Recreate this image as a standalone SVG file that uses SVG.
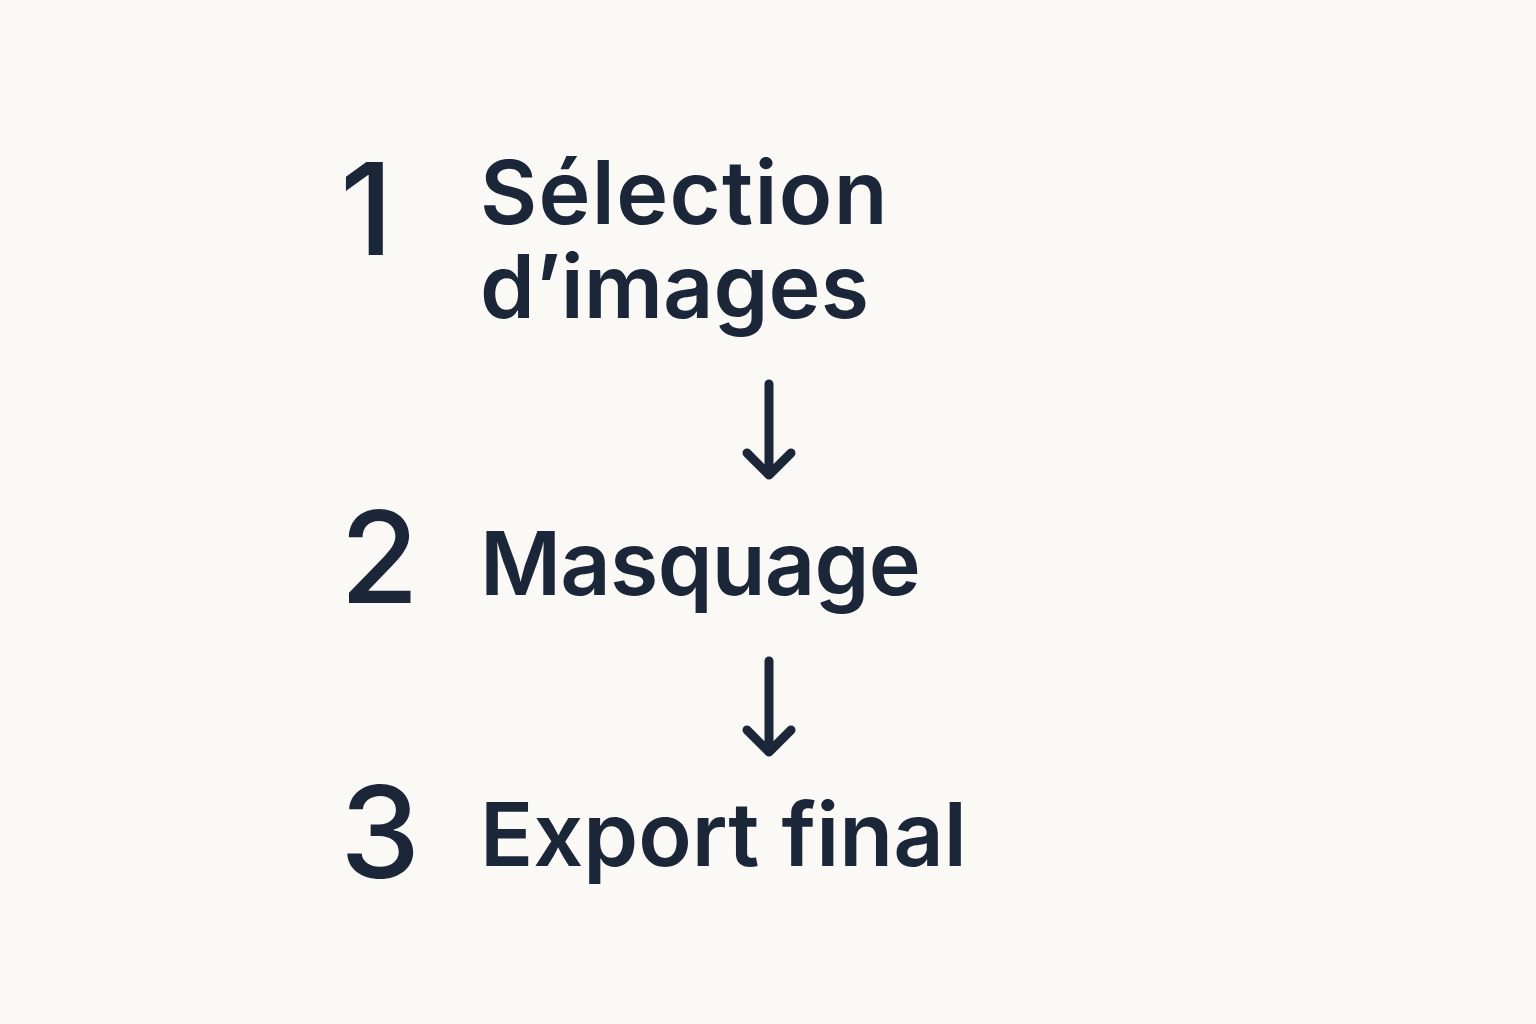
<svg xmlns="http://www.w3.org/2000/svg" width="1536" height="1024" viewBox="0 0 1536 1024">
<style>
.num{font-family:Inter,"Liberation Sans",sans-serif;font-weight:500;font-size:128px;fill:#1b2739}
.lbl{font-family:Inter,"Liberation Sans",sans-serif;font-weight:600;font-size:88px;fill:#1b2739}
.arr{fill:none;stroke:#1b2739;stroke-width:9;stroke-linecap:round;stroke-linejoin:round}
</style>
<rect width="1536" height="1024" fill="#fbf9f5"/>
<g id="step1">
<text class="num" x="340" y="255">1</text>
<text class="lbl" x="480" y="224"><tspan x="480" y="224" letter-spacing="1.3">Sélection</tspan><tspan x="480" y="318">d’images</tspan></text>
</g>
<g id="step2">
<text class="num" x="340" y="603">2</text>
<text class="lbl" x="480" y="595" letter-spacing="-0.8">Masquage</text>
</g>
<g id="step3">
<text class="num" x="340" y="878">3</text>
<text class="lbl" x="480" y="866">Export final</text>
</g>
<g id="connectors">
<path class="arr" d="M769 384V475M747 453L769 475L791 453"/>
<path class="arr" d="M769 661V752M747 730L769 752L791 730"/>
</g>
</svg>
